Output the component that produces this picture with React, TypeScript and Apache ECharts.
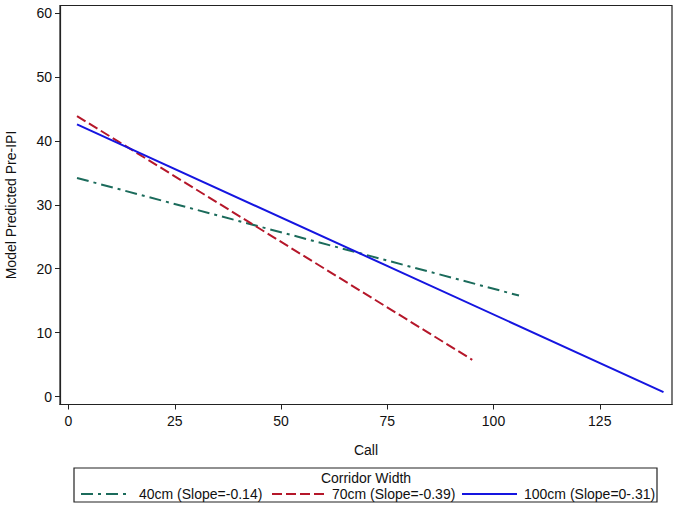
import React, { useEffect, useRef } from "react";
import * as echarts from "echarts";

const seriesNames = ["40cm (Slope=-0.14)", "70cm (Slope=-0.39)", "100cm (Slope=0-.31)"];
const line40: [number, number][] = [[2, 34.2], [106, 15.8]];
const line70: [number, number][] = [[2, 43.9], [95, 5.75]];
const line100: [number, number][] = [[2, 42.6], [140, 0.7]];
const xTicks = [0, 25, 50, 75, 100, 125];
const yTicks = [0, 10, 20, 30, 40, 50, 60];
const colors = ["#1b6b5b", "#b5172a", "#1515e0"];
const legendTitle = "Corridor Width";

export default function App() {
  const ref = useRef<HTMLDivElement>(null);
  useEffect(() => {
    const chart = echarts.init(ref.current!, undefined, { renderer: "svg" });
    const font = "'Liberation Sans', Arial, sans-serif";
    const dashes: any[] = [[12, 5, 3, 5], [10, 4], null];
    const legLine = [[81, 131], [272, 325], [462, 517]];
    const legText = [139, 332, 524];
    const legendGraphics: any[] = [];
    seriesNames.forEach((n, i) => {
      legendGraphics.push({
        type: "line",
        shape: { x1: legLine[i][0], y1: 494, x2: legLine[i][1], y2: 494 },
        style: { stroke: colors[i], lineWidth: 2, lineDash: dashes[i] || undefined },
      });
      legendGraphics.push({
        type: "text",
        x: legText[i], y: 494,
        style: {
          text: n, fontSize: 14, fill: "#111", fontFamily: font,
          textAlign: "left", textVerticalAlign: "middle",
        },
      });
    });
    chart.setOption({
      animation: false,
      textStyle: { fontFamily: font },
      grid: {
        left: 60, right: 7, top: 5.5, bottom: 104.5,
        containLabel: false, outerBoundsMode: "none",
        show: true, borderColor: "#222", borderWidth: 1.2,
      },
      xAxis: {
        type: "value", min: -2, max: 142,
        name: "Call", nameLocation: "middle", nameGap: 38,
        nameTextStyle: { fontSize: 14, color: "#111", fontFamily: font },
        axisLine: { show: true, onZero: false, lineStyle: { color: "#222", width: 1.2 } },
        axisTick: { show: true, length: 5, customValues: xTicks, lineStyle: { color: "#222" } },
        axisLabel: { customValues: xTicks, fontSize: 14, color: "#111", margin: 9, fontFamily: font },
        splitLine: { show: false },
      },
      yAxis: {
        type: "value", min: -1.25, max: 61.2,
        name: "Model Predicted Pre-IPI", nameLocation: "middle", nameGap: 42,
        nameTextStyle: { fontSize: 14, color: "#111", fontFamily: font },
        axisLine: { show: true, onZero: false, lineStyle: { color: "#222", width: 1.2 } },
        axisTick: { show: true, length: 5, customValues: yTicks, lineStyle: { color: "#222" } },
        axisLabel: { customValues: yTicks, fontSize: 14, color: "#111", margin: 8, fontFamily: font },
        splitLine: { show: false },
      },
      graphic: [
        {
          type: "rect",
          shape: { x: 74, y: 468, width: 583, height: 34 },
          style: { fill: "none", stroke: "#222", lineWidth: 1.2 },
        },
        {
          type: "text",
          x: 366, y: 478,
          style: {
            text: legendTitle, fontSize: 14, fill: "#111", fontFamily: font,
            textAlign: "center", textVerticalAlign: "middle",
          },
        },
        ...legendGraphics,
      ],
      series: [
        {
          name: seriesNames[0], type: "line", data: line40, symbol: "none",
          lineStyle: { color: colors[0], width: 2, type: dashes[0] },
        },
        {
          name: seriesNames[1], type: "line", data: line70, symbol: "none",
          lineStyle: { color: colors[1], width: 2, type: dashes[1] },
        },
        {
          name: seriesNames[2], type: "line", data: line100, symbol: "none",
          lineStyle: { color: colors[2], width: 2, type: "solid" },
        },
      ],
    });
    return () => chart.dispose();
  }, []);
  return (
    <div
      ref={ref}
      style={{ position: "fixed", left: 0, top: 0, width: 679, height: 509, background: "#fff" }}
    />
  );
}
